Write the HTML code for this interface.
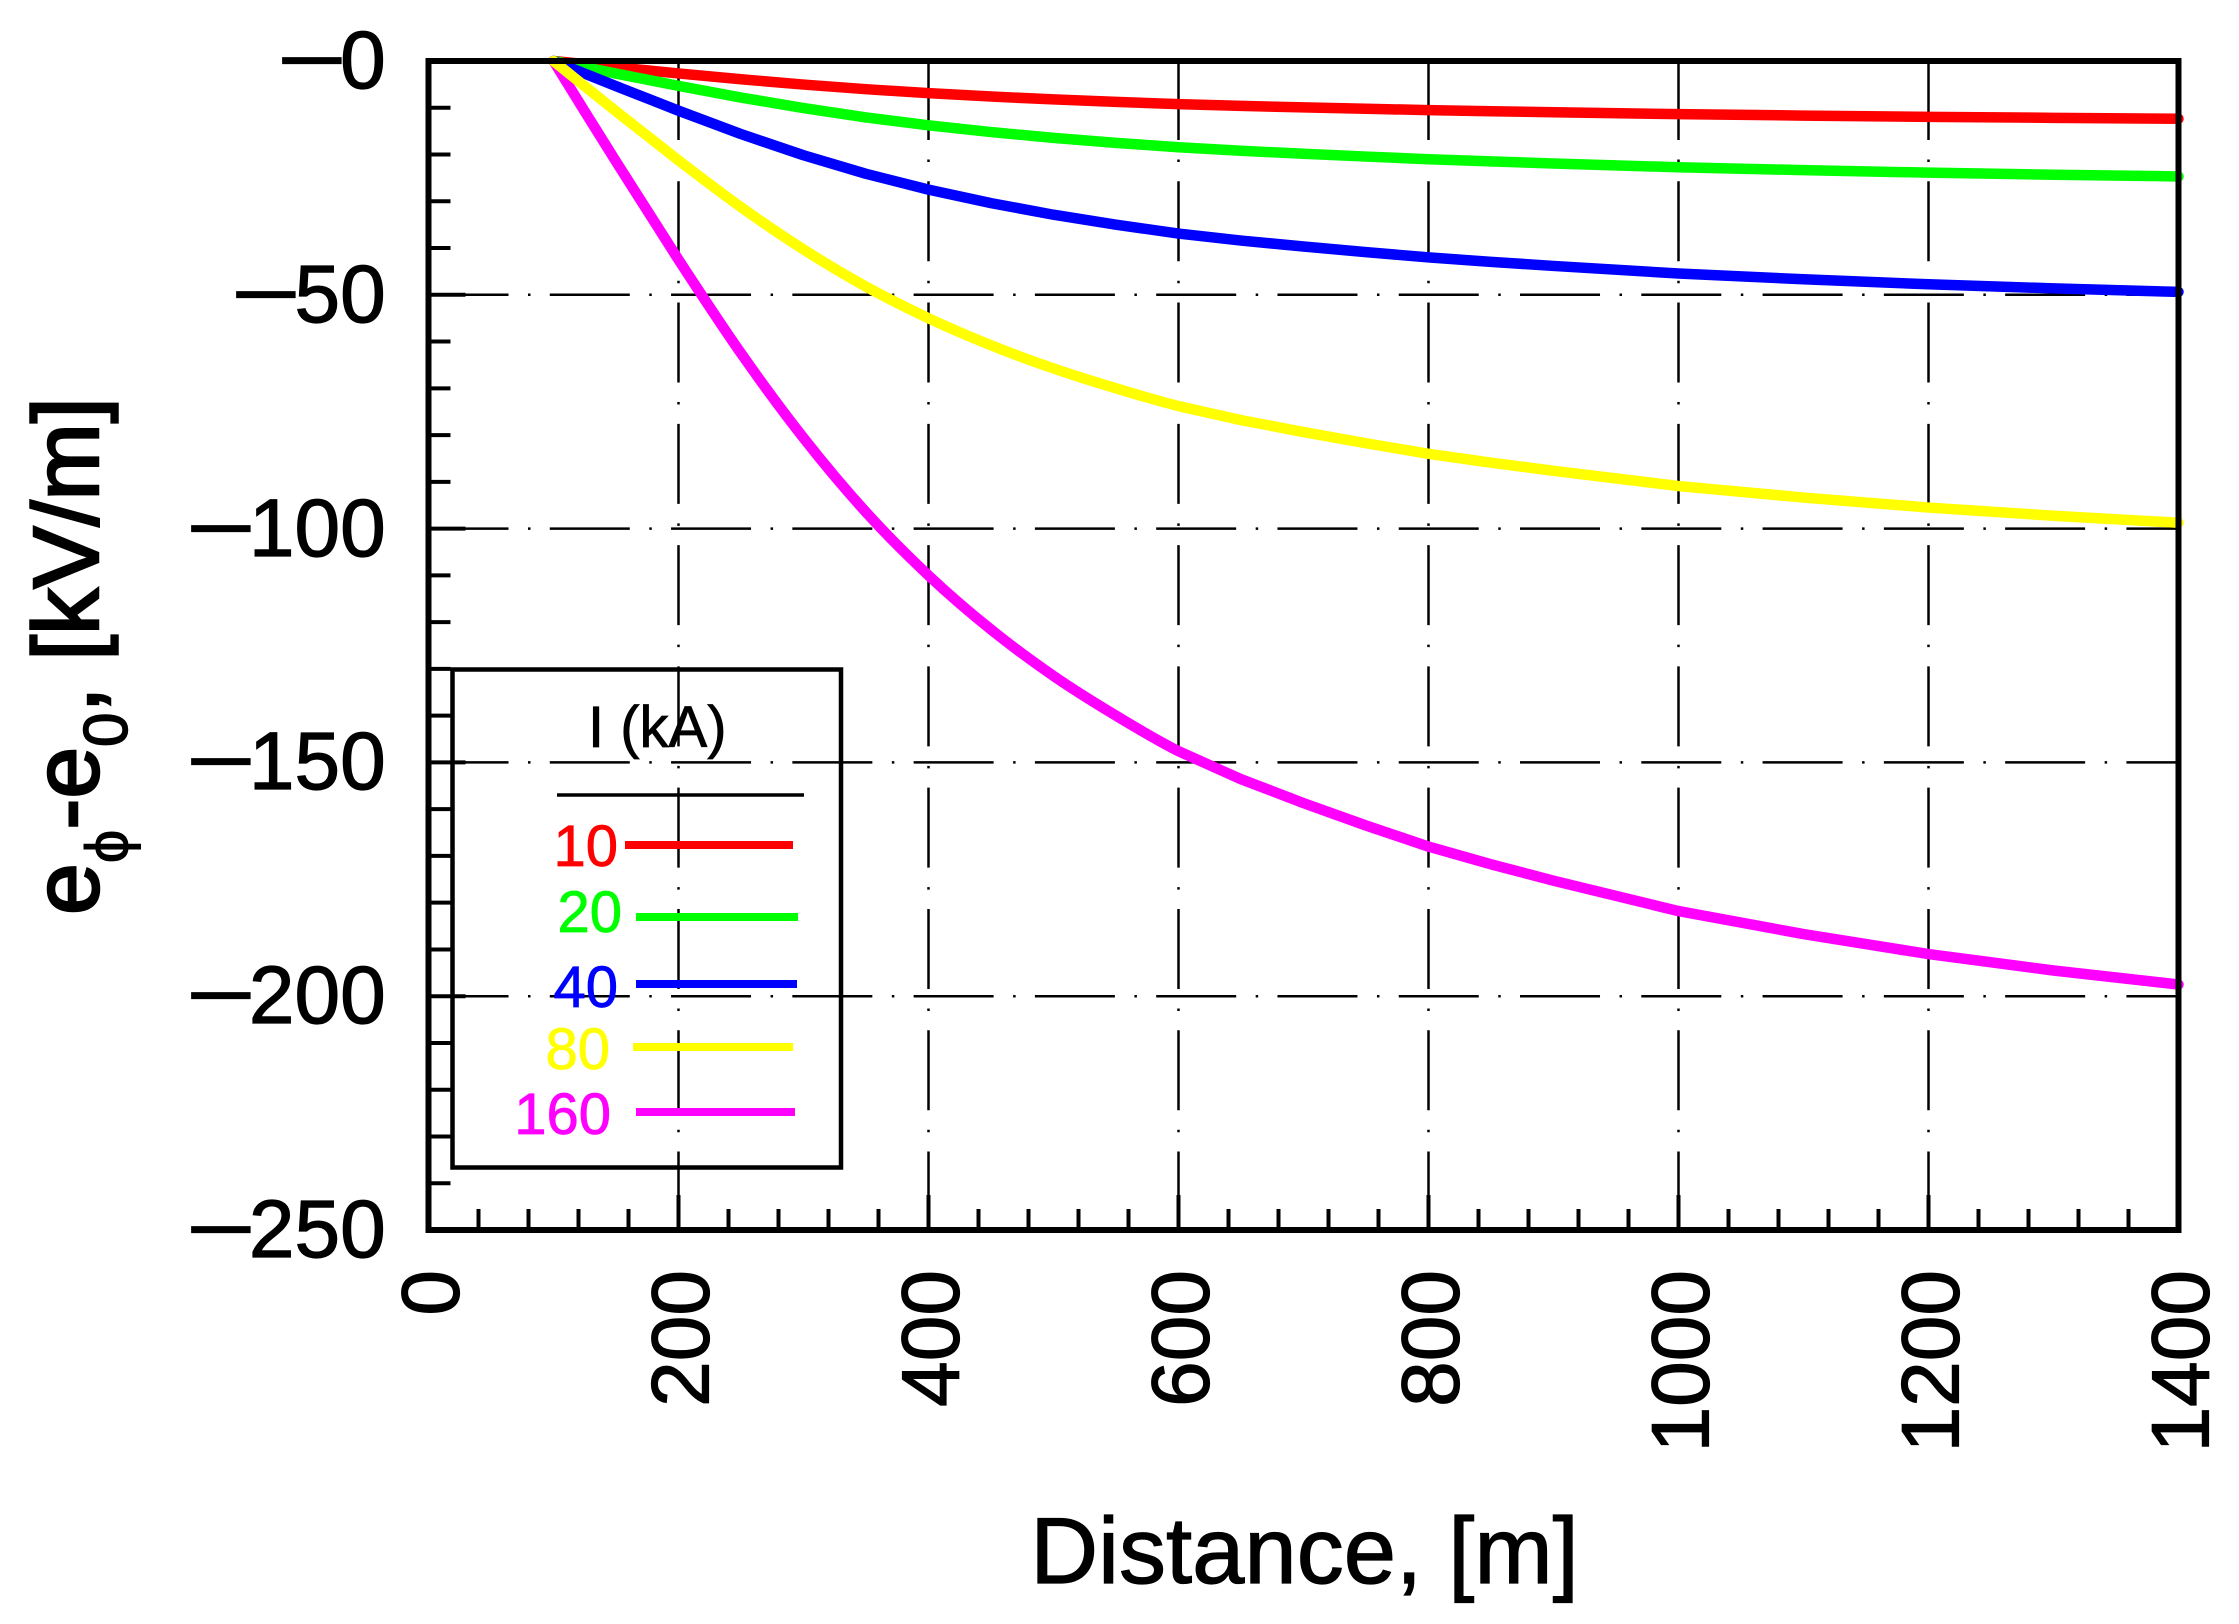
<!DOCTYPE html>
<html>
<head>
<meta charset="utf-8">
<style>
  html,body{margin:0;padding:0;background:#fff;}
  svg{display:block;}
  text{font-family:"Liberation Sans", Arial, sans-serif;}
</style>
</head>
<body>
<svg width="2239" height="1624" viewBox="0 0 2239 1624" xmlns="http://www.w3.org/2000/svg">
  <rect x="0" y="0" width="2239" height="1624" fill="#fff"/>

  <!-- grid lines -->
  <g stroke="#000" stroke-width="2.5" fill="none">
    <g stroke-dasharray="80 19.5 2.5 19.28" stroke-dashoffset="1">
      <path d="M678.5,61V1230M928.5,61V1230M1178.5,61V1230M1428.5,61V1230M1678.5,61V1230M1928.5,61V1230"/>
    </g>
    <g stroke-dasharray="80 19.5 2.5 19.28">
      <path d="M428.5,294.8H2178.5M428.5,528.6H2178.5M428.5,762.4H2178.5M428.5,996.2H2178.5"/>
    </g>
  </g>

  <!-- ticks -->
  <g stroke="#000" stroke-width="4" fill="none">
    <path d="M428.5,107.76h22M428.5,154.52h22M428.5,201.28h22M428.5,248.04h22M428.5,294.8h37
             M428.5,341.56h22M428.5,388.32h22M428.5,435.08h22M428.5,481.84h22M428.5,528.6h37
             M428.5,575.36h22M428.5,622.12h22M428.5,668.88h22M428.5,715.64h22M428.5,762.4h37
             M428.5,809.16h22M428.5,855.92h22M428.5,902.68h22M428.5,949.44h22M428.5,996.2h37
             M428.5,1042.96h22M428.5,1089.72h22M428.5,1136.48h22M428.5,1183.24h22"/>
    <path d="M478.5,1230v-21M528.5,1230v-21M578.5,1230v-21M628.5,1230v-21M678.5,1230v-35
             M728.5,1230v-21M778.5,1230v-21M828.5,1230v-21M878.5,1230v-21M928.5,1230v-35
             M978.5,1230v-21M1028.5,1230v-21M1078.5,1230v-21M1128.5,1230v-21M1178.5,1230v-35
             M1228.5,1230v-21M1278.5,1230v-21M1328.5,1230v-21M1378.5,1230v-21M1428.5,1230v-35
             M1478.5,1230v-21M1528.5,1230v-21M1578.5,1230v-21M1628.5,1230v-21M1678.5,1230v-35
             M1728.5,1230v-21M1778.5,1230v-21M1828.5,1230v-21M1878.5,1230v-21M1928.5,1230v-35
             M1978.5,1230v-21M2028.5,1230v-21M2078.5,1230v-21M2128.5,1230v-21"/>
  </g>

  <!-- legend -->
  <rect x="452.5" y="669.5" width="388.5" height="498" fill="none" stroke="#000" stroke-width="4.5"/>
  <text x="588" y="747" font-size="58" fill="#000" stroke="#000" stroke-width="0.8">I (kA)</text>
  <line x1="557" y1="795" x2="804" y2="795" stroke="#000" stroke-width="3.5"/>
  <g font-size="58" text-anchor="end" stroke-width="0.8">
    <text x="618" y="866" fill="#ff0000" stroke="#ff0000">10</text>
    <text x="622" y="932" fill="#00ff00" stroke="#00ff00">20</text>
    <text x="618" y="1007" fill="#0000ff" stroke="#0000ff">40</text>
    <text x="610" y="1069" fill="#ffff00" stroke="#ffff00">80</text>
    <text x="611" y="1134" fill="#ff00ff" stroke="#ff00ff">160</text>
  </g>
  <g stroke-width="8" fill="none">
    <line x1="625" y1="845" x2="793" y2="845" stroke="#ff0000"/>
    <line x1="636" y1="917" x2="798" y2="917" stroke="#00ff00"/>
    <line x1="636" y1="984" x2="797" y2="984" stroke="#0000ff"/>
    <line x1="633" y1="1047" x2="793" y2="1047" stroke="#ffff00"/>
    <line x1="636" y1="1112" x2="795" y2="1112" stroke="#ff00ff"/>
  </g>

  <!-- curves -->
  <g fill="none" stroke-width="10.5" stroke-linejoin="round" stroke-linecap="round">
    <path stroke="#ff0000" d="M553.5,61 L584.75,64.16 L616,67.28 L647.25,70.35 L678.5,73.42 L741,79.27 L803.5,84.56 L866,89.2 L928.5,93.15 L991,96.53 L1053.5,99.43 L1116,101.91 L1178.5,104.14 L1241,105.89 L1303.5,107.38 L1366,108.78 L1428.5,110.1 L1491,111.21 L1553.5,112.23 L1678.5,114.13 L1803.5,115.57 L1928.5,116.82 L2053.5,117.84 L2178.5,118.72"/>
    <path stroke="#00ff00" d="M553.5,61 L584.75,67.31 L616,73.56 L647.25,79.7 L678.5,85.84 L741,97.54 L803.5,108.11 L866,117.4 L928.5,125.3 L991,132.06 L1053.5,137.86 L1116,142.83 L1178.5,147.28 L1241,150.78 L1303.5,153.76 L1366,156.56 L1428.5,159.2 L1491,161.41 L1553.5,163.46 L1678.5,167.26 L1803.5,170.14 L1928.5,172.64 L2053.5,174.69 L2178.5,176.44"/>
    <path stroke="#0000ff" d="M553.5,61 L584.75,73.63 L616,86.13 L647.25,98.4 L678.5,110.68 L741,134.08 L803.5,155.23 L866,173.8 L928.5,189.6 L991,203.13 L1053.5,214.73 L1116,224.65 L1178.5,233.55 L1241,240.55 L1303.5,246.53 L1366,252.13 L1428.5,257.4 L1491,261.83 L1553.5,265.93 L1678.5,273.53 L1803.5,279.28 L1928.5,284.28 L2053.5,288.38 L2178.5,291.88"/>
    <path stroke="#ff00ff" d="M553.5,61 L584.75,111.5 L616,161.5 L647.25,210.6 L678.5,259.7
      C694.1,283.5 720.2,323.6 741,353.3
      C761.8,383.0 782.7,411.4 803.5,437.9
      C824.3,464.4 845.2,489.3 866,512.2
      C886.8,535.1 907.7,555.9 928.5,575.4
      C949.3,595.0 970.2,612.8 991,629.5
      C1011.8,646.3 1032.7,661.6 1053.5,675.9
      C1074.3,690.2 1095.2,703.1 1116,715.6
      C1136.8,728.2 1157.7,740.6 1178.5,751.2
      L1241,779.2 L1303.5,803.1 L1366,825.5 L1428.5,846.6 L1491,864.3 L1553.5,880.7 L1678.5,911.1 L1803.5,934.1 L1928.5,954.1 L2053.5,970.5 L2178.5,984.5"/>
    <path stroke="#ffff00" d="M553.5,61 L584.75,86.25 L616,111.25 L647.25,135.8 L678.5,160.35
      C694.1,172.25 720.2,192.3 741,207.15
      C761.8,222.0 782.7,236.2 803.5,249.45
      C824.3,262.7 845.2,275.15 866,286.6
      C886.8,298.05 907.7,308.45 928.5,318.2
      C949.3,328.0 970.2,336.9 991,345.25
      C1011.8,353.65 1032.7,361.3 1053.5,368.45
      C1074.3,375.6 1095.2,382.05 1116,388.3
      C1136.8,394.6 1157.7,400.8 1178.5,406.1
      L1241,420.1 L1303.5,432.05 L1366,443.25 L1428.5,453.8 L1491,462.65 L1553.5,470.85 L1678.5,486.05 L1803.5,497.55 L1928.5,507.55 L2053.5,515.75 L2178.5,522.75"/>
  </g>

  <!-- axes frame -->
  <rect x="428.5" y="61" width="1750" height="1169" fill="none" stroke="#000" stroke-width="6"/>

  <!-- y tick labels -->
  <g font-size="82" fill="#000" stroke="#000" stroke-width="1.2">
    <text x="385.7" y="88" text-anchor="end">0</text>
    <text transform="translate(346.5,88) scale(1.45,1)" text-anchor="end">−</text>
    <text x="385.7" y="322" text-anchor="end">50</text>
    <text transform="translate(300.5,322) scale(1.45,1)" text-anchor="end">−</text>
    <text x="385.7" y="556" text-anchor="end">100</text>
    <text transform="translate(255.5,556) scale(1.45,1)" text-anchor="end">−</text>
    <text x="385.7" y="789" text-anchor="end">150</text>
    <text transform="translate(255.5,789) scale(1.45,1)" text-anchor="end">−</text>
    <text x="385.7" y="1023" text-anchor="end">200</text>
    <text transform="translate(255.5,1023) scale(1.45,1)" text-anchor="end">−</text>
    <text x="385.7" y="1257" text-anchor="end">250</text>
    <text transform="translate(255.5,1257) scale(1.45,1)" text-anchor="end">−</text>
  </g>

  <!-- x tick labels -->
  <g font-size="82" fill="#000" text-anchor="end" stroke="#000" stroke-width="1.2">
    <text transform="translate(458.5,1270) rotate(-90)">0</text>
    <text transform="translate(708.5,1270) rotate(-90)">200</text>
    <text transform="translate(958.5,1270) rotate(-90)">400</text>
    <text transform="translate(1208.5,1270) rotate(-90)">600</text>
    <text transform="translate(1458.5,1270) rotate(-90)">800</text>
    <text transform="translate(1708.5,1270) rotate(-90)">1000</text>
    <text transform="translate(1958.5,1270) rotate(-90)">1200</text>
    <text transform="translate(2208.5,1270) rotate(-90)">1400</text>
  </g>

  <!-- axis titles -->
  <text x="1304.5" y="1583" font-size="94" text-anchor="middle" fill="#000" stroke="#000" stroke-width="1.2">Distance, [m]</text>
  <text transform="translate(98,915) rotate(-90)" font-size="93" fill="#000" stroke="#000" stroke-width="2.5">e<tspan font-size="60" dy="30" stroke-width="1">ϕ</tspan><tspan dy="-30">-e</tspan><tspan font-size="62" dy="29" stroke-width="1.5">0</tspan><tspan dy="-29">, [kV/m]</tspan></text>
</svg>
</body>
</html>
